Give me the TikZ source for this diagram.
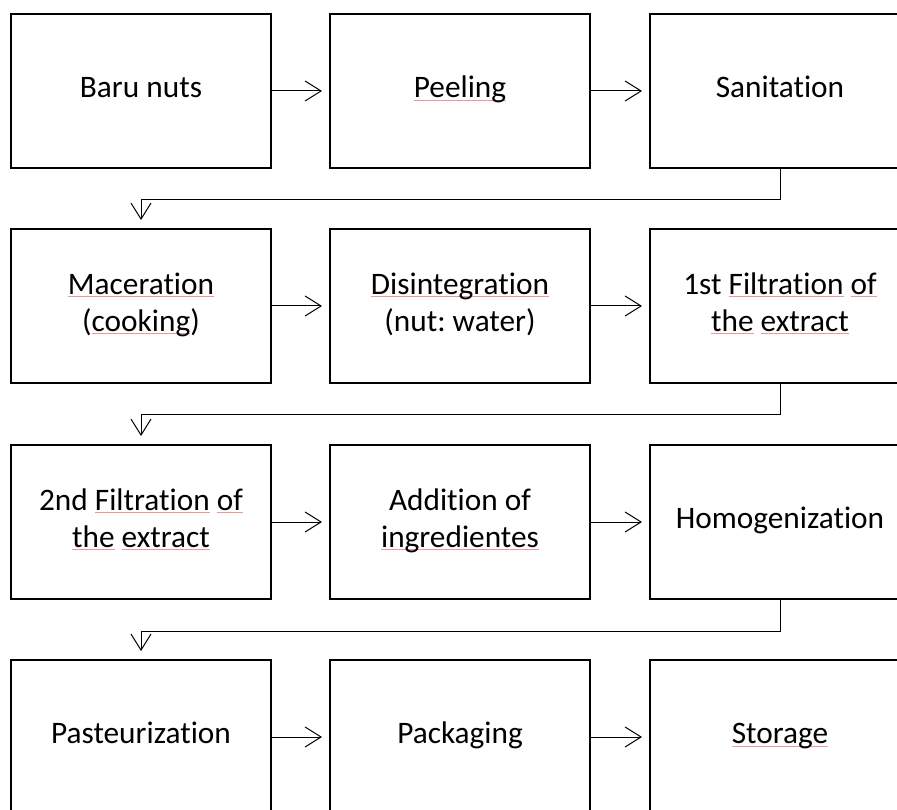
\documentclass[tikz,border=0pt]{standalone}
\usepackage{fontspec}
\setmainfont[RawFeature={-liga;-clig;-dlig}]{Carlito}
\usetikzlibrary{arrows.meta}
\definecolor{spellred}{RGB}{240,150,150}
\newcommand\spl[1]{\setbox0\hbox{#1}\leavevmode\rlap{\color{spellred}\rule[-3pt]{\wd0}{0.9pt}}\box0\relax}
\newcommand\boxstrut{\rule[-8pt]{0pt}{29pt}}
\frenchspacing
\begin{document}
\begin{tikzpicture}[x=1pt,y=-1pt,
  box/.style={draw, line width=2pt, minimum width=260pt, minimum height=154pt,
    anchor=north west, align=center, inner sep=0pt,
    font=\fontsize{31.3}{37}\selectfont,
    execute at begin node=\boxstrut, execute at end node=\boxstrut},
  conn/.style={line width=1pt, -{Straight Barb[length=16pt,width=20pt,line width=1pt]}}]
\useasboundingbox (0,0) rectangle (897,810);
\clip (0,0) rectangle (897,810);
% row 1
\node[box] (b1) at (10,13) {Baru nuts};
\node[box] (b2) at (329,13) {\spl{Peeling}};
\node[box] (b3) at (649,13) {Sanitation};
% row 2
\node[box] (b4) at (10,228) {\spl{Maceration}\\(\spl{cooking})};
\node[box] (b5) at (329,228) {\spl{Disintegration}\\(nut: water)};
\node[box] (b6) at (649,228) {1st \spl{Filtration} \spl{of}\\\spl{the} \spl{extract}};
% row 3
\node[box] (b7) at (10,444) {2nd \spl{Filtration} \spl{of}\\\spl{the} \spl{extract}};
\node[box] (b8) at (329,444) {Addition of\\\spl{ingredientes}};
\node[box] (b9) at (649,444) {Homogenization};
% row 4
\node[box] (b10) at (10,659) {Pasteurization};
\node[box] (b11) at (329,659) {Packaging};
\node[box] (b12) at (649,659) {\spl{Storage}};
% horizontal connectors
\draw[conn] (b1.east) -- ([xshift=-7pt]b2.west);
\draw[conn] (b2.east) -- ([xshift=-7pt]b3.west);
\draw[conn] (b4.east) -- ([xshift=-7pt]b5.west);
\draw[conn] (b5.east) -- ([xshift=-7pt]b6.west);
\draw[conn] (b7.east) -- ([xshift=-7pt]b8.west);
\draw[conn] (b8.east) -- ([xshift=-7pt]b9.west);
\draw[conn] (b10.east) -- ([xshift=-7pt]b11.west);
\draw[conn] (b11.east) -- ([xshift=-7pt]b12.west);
% row-to-row connectors
\draw[conn] (b3.south) -- ++(0,31) -| ([yshift=8pt]b4.north);
\draw[conn] (b6.south) -- ++(0,30) -| ([yshift=8pt]b7.north);
\draw[conn] (b9.south) -- ++(0,31) -| ([yshift=8pt]b10.north);
\end{tikzpicture}
\end{document}
